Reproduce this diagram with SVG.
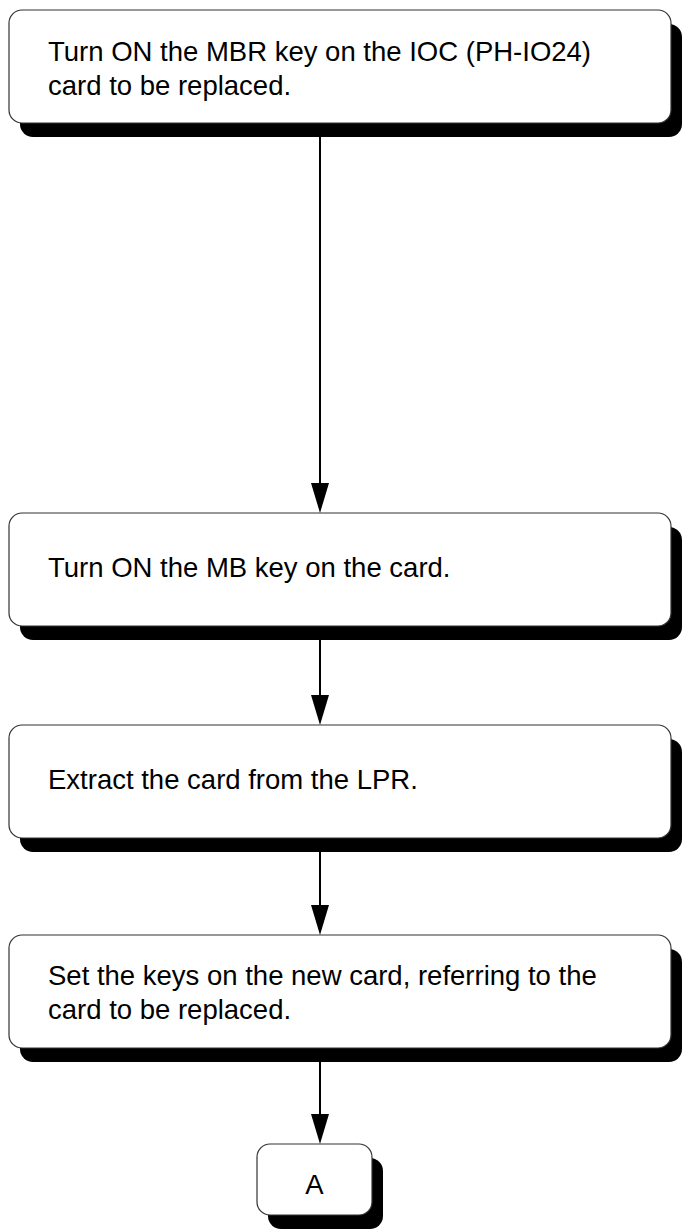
<svg xmlns="http://www.w3.org/2000/svg" width="682" height="1229" viewBox="0 0 682 1229">
<defs>
<style>
.shadow{fill:#000}
.box{fill:#fff;stroke:#333;stroke-width:1.2}
.t{font-family:"Liberation Sans",Arial,sans-serif;font-size:27.5px;fill:#000}
.conn{stroke:#000;stroke-width:2;fill:none}
.head{fill:#000}
</style>
</defs>
<rect width="682" height="1229" fill="#fff"/>
<g id="connectors">
<line class="conn" x1="320" y1="123" x2="320" y2="486"/>
<polygon class="head" points="311,483 329,483 320,513"/>
<line class="conn" x1="320" y1="626" x2="320" y2="698"/>
<polygon class="head" points="311,695 329,695 320,725"/>
<line class="conn" x1="320" y1="838" x2="320" y2="908"/>
<polygon class="head" points="311,905 329,905 320,935"/>
<line class="conn" x1="320" y1="1048" x2="320" y2="1117"/>
<polygon class="head" points="311,1114 329,1114 320,1144"/>
</g>
<g id="node1">
<rect class="shadow" x="20" y="24" width="662" height="113" rx="13"/>
<rect class="box" x="9" y="10" width="662" height="113" rx="13"/>
<text class="t" x="48" y="61">Turn ON the MBR key on the IOC (PH-IO24)</text>
<text class="t" x="48" y="95">card to be replaced.</text>
</g>
<g id="node2">
<rect class="shadow" x="20" y="527" width="662" height="113" rx="13"/>
<rect class="box" x="9" y="513" width="662" height="113" rx="13"/>
<text class="t" x="48" y="577">Turn ON the MB key on the card.</text>
</g>
<g id="node3">
<rect class="shadow" x="20" y="739" width="662" height="113" rx="13"/>
<rect class="box" x="9" y="725" width="662" height="113" rx="13"/>
<text class="t" x="48" y="789">Extract the card from the LPR.</text>
</g>
<g id="node4">
<rect class="shadow" x="20" y="949" width="662" height="113" rx="13"/>
<rect class="box" x="9" y="935" width="662" height="113" rx="13"/>
<text class="t" x="48" y="985">Set the keys on the new card, referring to the</text>
<text class="t" x="48" y="1019">card to be replaced.</text>
</g>
<g id="nodeA">
<rect class="shadow" x="268" y="1158" width="115" height="71" rx="13"/>
<rect class="box" x="257" y="1144" width="115" height="71" rx="13"/>
<text class="t" x="314.5" y="1194" text-anchor="middle">A</text>
</g>
</svg>
